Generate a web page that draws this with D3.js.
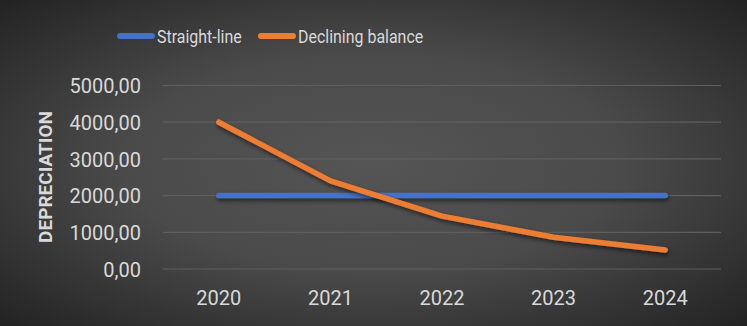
<!DOCTYPE html>
<html><head><meta charset="utf-8">
<script src="https://cdn.jsdelivr.net/npm/d3@7"></script>
<style>html,body{margin:0;padding:0;background:#333;}svg{display:block;}</style>
</head><body>
<script>
const categories = ["2020","2021","2022","2023","2024"];
const straightLine = [2000,2000,2000,2000,2000];
const decliningBalance = [4000,2400,1440,864,518.4];
const yTicks = [0,1000,2000,3000,4000,5000];
const seriesNames = ["Straight-line","Declining balance"];
const seriesColors = ["#4472C4","#ED7D31"];

const W=747,H=326;
const svg=d3.select("body").append("svg").attr("width",W).attr("height",H);
const defs=svg.append("defs");
const rg=defs.append("radialGradient").attr("id","bg").attr("cx","50%").attr("cy","50%").attr("r","75%");
rg.append("stop").attr("offset","0%").attr("stop-color","#555555");
rg.append("stop").attr("offset","45%").attr("stop-color","#4a4a4a");
rg.append("stop").attr("offset","100%").attr("stop-color","#1e1e1e");
const f=defs.append("filter").attr("id","sh").attr("filterUnits","userSpaceOnUse")
  .attr("x",0).attr("y",0).attr("width",W).attr("height",H);
f.append("feDropShadow").attr("dx",1).attr("dy",2.5).attr("stdDeviation",2).attr("flood-color","#000").attr("flood-opacity",0.55);

svg.append("rect").attr("width",W).attr("height",H).attr("fill","url(#bg)");

const x=d3.scaleBand().domain(categories).range([163,721]).padding(0);
const y=d3.scaleLinear().domain([0,5000]).range([269,85.5]);
const font="Roboto, sans-serif";
const txt="#d9d9d9";

// gridlines
svg.append("g").selectAll("line").data(yTicks).join("line")
  .attr("x1",163).attr("x2",721).attr("y1",d=>y(d)).attr("y2",d=>y(d))
  .attr("stroke","#5e5e5e").attr("stroke-width",1.2);

// y axis labels
const yAxis=d3.axisLeft(y).tickValues(yTicks).tickSize(0).tickPadding(0)
  .tickFormat(d=>d3.format(".2f")(d).replace(".",","));
const gy=svg.append("g").attr("transform","translate(141,0)").call(yAxis);
gy.select(".domain").remove();
gy.selectAll("text").attr("fill",txt).attr("font-family",font).attr("font-size",20).attr("dy","0.36em");

// x axis labels
const xAxis=d3.axisBottom(x).tickSize(0).tickPadding(0);
const gx=svg.append("g").attr("transform","translate(0,291)").call(xAxis);
gx.select(".domain").remove();
gx.selectAll("text").attr("fill",txt).attr("font-family",font).attr("font-size",20).attr("dy","0.71em");

// y title
svg.append("text").attr("transform","translate(52,177) rotate(-90)")
  .attr("text-anchor","middle").attr("fill",txt).attr("font-family",font)
  .attr("font-weight","bold").attr("font-size",19).text("DEPRECIATION");

// lines
const line=d3.line().x((d,i)=>x(categories[i])+x.bandwidth()/2).y(d=>y(d));
[straightLine,decliningBalance].forEach((s,i)=>{
  svg.append("path").datum(s).attr("d",line).attr("fill","none")
    .attr("stroke",seriesColors[i]).attr("stroke-width",5.5)
    .attr("stroke-linecap","round").attr("stroke-linejoin","round")
    .attr("filter","url(#sh)");
});

// legend
const lx=[117,258];
seriesNames.forEach((n,i)=>{
  svg.append("line").attr("x1",lx[i]+3).attr("x2",lx[i]+35).attr("y1",36).attr("y2",36)
    .attr("stroke",seriesColors[i]).attr("stroke-width",6).attr("stroke-linecap","round");
  const tx=lx[i]+40;
  svg.append("text").attr("x",0).attr("y",43).attr("fill",txt)
    .attr("font-family",font).attr("font-size",19)
    .attr("transform",`translate(${tx},0) scale(0.84,1)`)
    .text(n);
});
</script>
</body></html>
